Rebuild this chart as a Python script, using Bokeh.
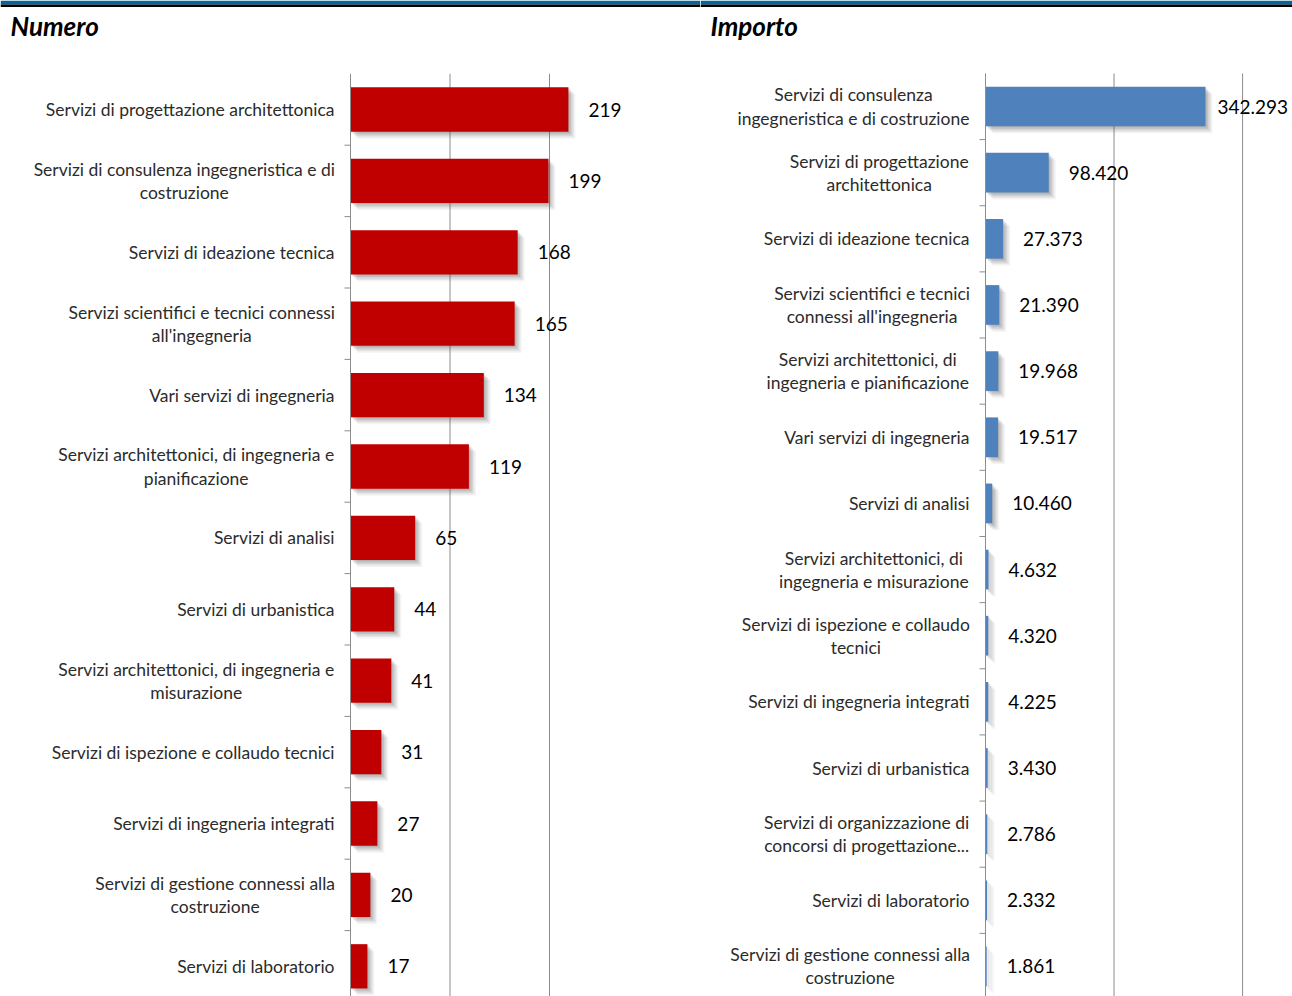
from bokeh.plotting import figure
from bokeh.layouts import row
from bokeh.models import Range1d, BoxAnnotation
from bokeh.core.properties import value
from bokeh.embed import file_html
from bokeh.resources import INLINE

# ---------------- data ----------------
num_categories = [
    "Servizi di progettazione architettonica",
    "Servizi di consulenza ingegneristica e di\ncostruzione",
    "Servizi di ideazione tecnica",
    "Servizi scientifici e tecnici connessi\nall'ingegneria",
    "Vari servizi di ingegneria",
    "Servizi architettonici, di ingegneria e\npianificazione",
    "Servizi di analisi",
    "Servizi di urbanistica",
    "Servizi architettonici, di ingegneria e\nmisurazione",
    "Servizi di ispezione e collaudo tecnici",
    "Servizi di ingegneria integrati",
    "Servizi di gestione connessi alla\ncostruzione",
    "Servizi di laboratorio",
]
num_values = [219, 199, 168, 165, 134, 119, 65, 44, 41, 31, 27, 20, 17]

imp_categories = [
    "Servizi di consulenza\ningegneristica e di costruzione",
    "Servizi di progettazione\narchitettonica",
    "Servizi di ideazione tecnica",
    "Servizi scientifici e tecnici\nconnessi all'ingegneria",
    "Servizi architettonici, di\ningegneria e pianificazione",
    "Vari servizi di ingegneria",
    "Servizi di analisi",
    "Servizi architettonici, di\ningegneria e misurazione",
    "Servizi di ispezione e collaudo\ntecnici",
    "Servizi di ingegneria integrati",
    "Servizi di urbanistica",
    "Servizi di organizzazione di\nconcorsi di progettazione...",
    "Servizi di laboratorio",
    "Servizi di gestione connessi alla\ncostruzione",
]
imp_values = [342293, 98420, 27373, 21390, 19968, 19517, 10460, 4632, 4320, 4225, 3430, 2786, 2332, 1861]

num_grid = [100, 200]
imp_grid = [200000, 400000]

FONT = "Lato"
LABEL_PX = 17.5

# approximate Lato advance widths (em) used only to centre multi-line labels
_W = {' ': .193, ',': .2, '.': .2, "'": .2, 'a': .486, 'b': .556, 'c': .46, 'd': .556,
      'e': .52, 'f': .32, 'g': .5, 'h': .556, 'i': .24, 'j': .24, 'k': .5, 'l': .24,
      'm': .83, 'n': .556, 'o': .55, 'p': .55, 'q': .556, 'r': .37, 's': .42, 't': .35,
      'u': .556, 'v': .5, 'w': .76, 'x': .49, 'y': .5, 'z': .45, 'S': .52, 'V': .66}


def est_width(line, px):
    return sum(_W.get(ch, .55) for ch in line) * 1.03 * px


def fmt_it(v):
    return f"{v:,}".replace(",", ".")


def panel(title, cats, vals, color, sx, axis_px, c0_px, sp_px, bar_frac,
          width, height, gridvals, title_px):
    n = len(cats)
    x_start = -axis_px / sx
    x_end = (width - axis_px) / sx
    y_top = c0_px / sp_px
    y_bot = -(height - c0_px) / sp_px
    p = figure(width=width, height=height,
               x_range=Range1d(x_start, x_end), y_range=Range1d(y_bot, y_top),
               output_backend="svg", toolbar_location=None, min_border=0)
    p.xaxis.visible = False
    p.yaxis.visible = False
    p.xgrid.visible = False
    p.ygrid.visible = False
    p.outline_line_color = None
    p.background_fill_color = "white"
    p.border_fill_color = "white"

    ys = [-i for i in range(n)]
    dx = 1.0 / sx
    dy = 1.0 / sp_px

    # header band
    p.add_layout(BoxAnnotation(top=y_top, bottom=y_top - 4 * dy,
                               fill_color="#00679E", fill_alpha=1, line_color=None))
    p.add_layout(BoxAnnotation(top=y_top - 4 * dy, bottom=y_top - 6.5 * dy,
                               fill_color="#000000", fill_alpha=1, line_color=None))

    # gridlines
    p.segment(x0=gridvals, y0=[0.5] * len(gridvals), x1=gridvals,
              y1=[y_bot] * len(gridvals), line_color="#8C8C8C", line_width=1)

    # shadows
    for k, a in [(7, 0.07), (5.5, 0.10), (4, 0.13), (2.5, 0.15), (1, 0.15)]:
        p.hbar(y=[yy - k * dy for yy in ys], left=k * dx,
               right=[v + k * dx for v in vals], height=bar_frac,
               fill_color="#606060", fill_alpha=a, line_color=None)
    # bars
    p.hbar(y=ys, left=0, right=vals, height=bar_frac,
           fill_color=color, line_color=None)

    # axis line and ticks
    p.segment(x0=[0], y0=[0.5], x1=[0], y1=[y_bot], line_color="#8C8C8C", line_width=1)
    bnd = [-(i + 0.5) for i in range(n - 1)]
    p.segment(x0=[-6 * dx] * len(bnd), y0=bnd, x1=[0] * len(bnd), y1=bnd,
              line_color="#8C8C8C", line_width=1)

    # category labels: single lines right-aligned, multi-line blocks centred
    right_edge = -16 * dx
    single_x, single_y, single_t = [], [], []
    multi_x, multi_y, multi_t = [], [], []
    for c, yy in zip(cats, ys):
        if "\n" in c:
            w = max(est_width(l, LABEL_PX) for l in c.split("\n"))
            multi_x.append(right_edge - (w / 2) * dx)
            multi_y.append(yy)
            multi_t.append(c)
        else:
            single_x.append(right_edge)
            single_y.append(yy)
            single_t.append(c)
    common = dict(text_baseline="middle", text_font=value(FONT),
                  text_font_size=f"{LABEL_PX}px", text_color="#2B2B2B",
                  text_line_height=1.1)
    p.text(x=single_x, y=single_y, text=single_t, text_align="right", **common)
    p.text(x=multi_x, y=multi_y, text=multi_t, text_align="center", **common)

    # value labels
    labels = [fmt_it(v) for v in vals]
    offs = []
    for v, t in zip(vals, labels):
        w = 10.6 * len(t)
        offs.append(20 if v * sx + 20 + w < width - axis_px else 12)
    p.text(x=vals, y=ys, text=labels, x_offset=offs, text_align="left",
           text_baseline="middle", text_font=value(FONT),
           text_font_size="19px", text_color="#000000")

    # title
    p.text(x=[x_start + title_px * dx], y=[y_top - 25 * dy], text=[title],
           text_align="left", text_baseline="middle", text_font=value(FONT),
           text_font_style="bold italic", text_font_size="26px", text_color="#000000")
    return p


p1 = panel("Numero", num_categories, num_values, "#C00000",
           sx=0.995, axis_px=350, c0_px=109, sp_px=71.4, bar_frac=0.62,
           width=700, height=996, gridvals=num_grid, title_px=10)
p2 = panel("Importo", imp_categories, imp_values, "#4F81BD",
           sx=220.0 / 342293, axis_px=285, c0_px=106, sp_px=66.15, bar_frac=0.6,
           width=592, height=996, gridvals=imp_grid, title_px=10)

layout = row(p1, p2)
open("out.html", "w").write(file_html(layout, INLINE))
